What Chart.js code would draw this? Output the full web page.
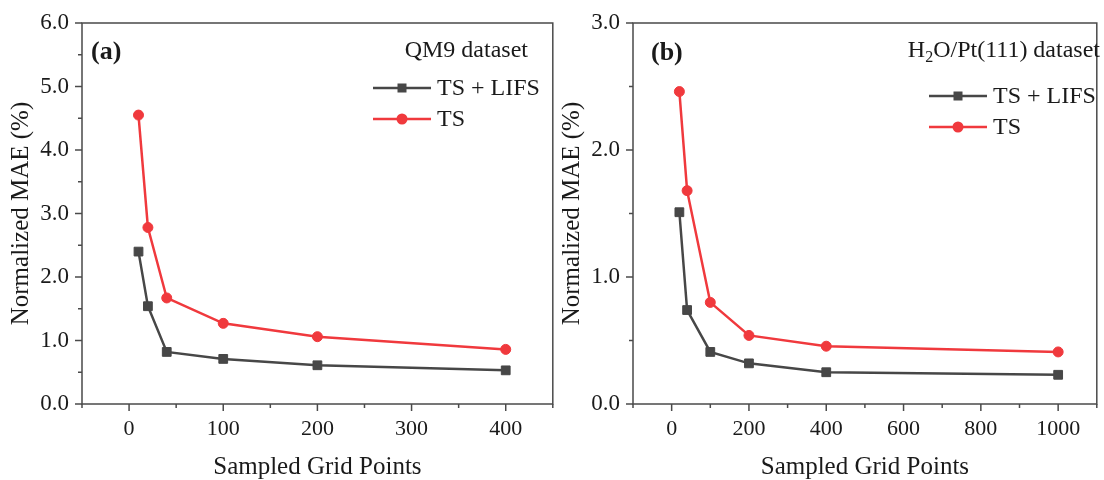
<!DOCTYPE html>
<html>
<head>
<meta charset="utf-8">
<title>Normalized MAE vs sampled grid points</title>
<script src="https://cdn.jsdelivr.net/npm/chart.js@4.4.1/dist/chart.umd.min.js"></script>
<style>
  html, body { margin: 0; padding: 0; background: #fff; }
  #wrap { position: relative; width: 1104px; height: 480px; overflow: hidden; }
  #chartA { position: absolute; left: 0; top: 0; }
  #chartB { position: absolute; left: 551px; top: 0; }
</style>
</head>
<body>
<div id="wrap">
  <canvas id="chartA" width="560" height="480"></canvas>
  <canvas id="chartB" width="553" height="480"></canvas>
</div>
<script>
// (a) QM9 dataset
const gridA = [10, 20, 40, 100, 200, 400];
const lifsA = [2.40, 1.54, 0.82, 0.71, 0.61, 0.53];
const tsA   = [4.55, 2.78, 1.67, 1.27, 1.06, 0.86];
const xTicksA = [0, 100, 200, 300, 400];
const yTicksA = [0, 1, 2, 3, 4, 5, 6];

// (b) H2O/Pt(111) dataset
const gridB = [20, 40, 100, 200, 400, 1000];
const lifsB = [1.51, 0.74, 0.41, 0.32, 0.25, 0.23];
const tsB   = [2.46, 1.68, 0.80, 0.54, 0.455, 0.41];
const xTicksB = [0, 200, 400, 600, 800, 1000];
const yTicksB = [0, 1, 2, 3];

const seriesNames = ['TS + LIFS', 'TS'];

const AXIS = '#4a4a4a';
const DARK = '#474747';
const RED = '#f0393d';
const TEXT = '#1a1a1a';
const SERIF = '"Liberation Serif", "Times New Roman", serif';

// box round the plot + outward ticks (major and minor) on bottom and left
const framePlugin = {
  id: 'frame',
  afterDatasetsDraw(chart, args, opts) {
    const { ctx, chartArea: a, scales: { x, y } } = chart;
    ctx.save();
    ctx.strokeStyle = AXIS;
    ctx.lineWidth = 1.5;
    ctx.strokeRect(a.left, a.top, a.right - a.left, a.bottom - a.top);

    const seg = (x1, y1, x2, y2) => {
      ctx.beginPath(); ctx.moveTo(x1, y1); ctx.lineTo(x2, y2); ctx.stroke();
    };
    opts.xMajor.forEach(v => {
      const p = x.getPixelForValue(v);
      seg(p, a.bottom, p, a.bottom + 7);
    });
    for (let v = x.min; v <= x.max + 1e-9; v += opts.xMinor) {
      if (opts.xMajor.includes(v)) continue;
      const p = x.getPixelForValue(v);
      seg(p, a.bottom, p, a.bottom + 4);
    }
    opts.yMajor.forEach(v => {
      const p = y.getPixelForValue(v);
      seg(a.left - 7, p, a.left, p);
    });
    for (let v = y.min; v <= y.max + 1e-9; v += opts.yMinor) {
      if (opts.yMajor.some(m => Math.abs(m - v) < 1e-9)) continue;
      const p = y.getPixelForValue(v);
      seg(a.left - 4, p, a.left, p);
    }
    ctx.restore();
  }
};

// panel letter, dataset name and the legend inside the plot
const decoPlugin = {
  id: 'deco',
  afterDraw(chart, args, o) {
    const ctx = chart.ctx;
    ctx.save();
    ctx.fillStyle = TEXT;
    ctx.textBaseline = 'middle';

    ctx.font = 'bold 26px ' + SERIF;
    ctx.textAlign = 'left';
    ctx.fillText(o.letter, o.letterX, o.letterY);

    // dataset name, right aligned, with optional subscript part
    const big = '24px ' + SERIF, small = '16px ' + SERIF;
    let w = 0;
    o.name.forEach(p => { ctx.font = p.sub ? small : big; w += ctx.measureText(p.t).width; });
    let cx = o.nameRight - w;
    o.name.forEach(p => {
      ctx.font = p.sub ? small : big;
      ctx.fillText(p.t, cx, o.nameY + (p.sub ? 7 : 0));
      cx += ctx.measureText(p.t).width;
    });

    // legend
    chart.data.datasets.forEach((ds, i) => {
      const ly = o.legY + i * o.legGap;
      ctx.strokeStyle = ds.borderColor;
      ctx.lineWidth = 2.5;
      ctx.beginPath(); ctx.moveTo(o.legX1, ly); ctx.lineTo(o.legX2, ly); ctx.stroke();
      const mx = (o.legX1 + o.legX2) / 2;
      ctx.fillStyle = ds.borderColor;
      if (ds.pointStyle === 'rect') {
        ctx.fillRect(mx - 4.5, ly - 4.5, 9, 9);
      } else {
        ctx.beginPath(); ctx.arc(mx, ly, 5.5, 0, Math.PI * 2); ctx.fill();
      }
      ctx.fillStyle = TEXT;
      ctx.font = big;
      ctx.textAlign = 'left';
      ctx.fillText(ds.label, o.legX2 + 6, ly + 1);
    });
    ctx.restore();
  }
};

function buildPanel(id, xs, lifs, ts, xTicks, yTicks, xRange, xMinor, yMax, padRight, deco) {
  const pts = vals => vals.map((v, i) => ({ x: xs[i], y: v }));
  return new Chart(document.getElementById(id), {
    type: 'line',
    data: {
      datasets: [
        {
          label: seriesNames[0], data: pts(lifs),
          borderColor: DARK, backgroundColor: DARK, borderWidth: 2.5,
          pointStyle: 'rect', pointRadius: 6.2, pointBorderWidth: 1
        },
        {
          label: seriesNames[1], data: pts(ts),
          borderColor: RED, backgroundColor: RED, borderWidth: 2.5,
          pointStyle: 'circle', pointRadius: 5, pointBorderWidth: 1
        }
      ]
    },
    options: {
      responsive: false,
      animation: false,
      events: [],
      layout: { padding: { top: 23, right: padRight, bottom: 0, left: 0 } },
      plugins: {
        legend: { display: false },
        tooltip: { enabled: false },
        frame: { xMajor: xTicks, xMinor: xMinor, yMajor: yTicks, yMinor: 0.5 },
        deco: deco
      },
      scales: {
        x: {
          type: 'linear', min: xRange[0], max: xRange[1],
          grid: { display: false, drawTicks: false },
          border: { display: false },
          afterBuildTicks: s => { s.ticks = xTicks.map(v => ({ value: v })); },
          afterFit: s => { s.height = 76; s.paddingLeft = 0; s.paddingRight = 0; },
          ticks: {
            padding: 12, color: TEXT, autoSkip: false, maxRotation: 0,
            font: { family: SERIF, size: 22 },
            callback: v => String(v)
          },
          title: {
            display: true, text: 'Sampled Grid Points', color: TEXT,
            font: { family: SERIF, size: 25, lineHeight: 1 },
            padding: { top: 0, bottom: 0 }
          }
        },
        y: {
          type: 'linear', min: 0, max: yMax,
          grid: { display: false, drawTicks: false },
          border: { display: false },
          afterBuildTicks: s => { s.ticks = yTicks.map(v => ({ value: v })); },
          afterFit: s => { s.width = 82; s.paddingTop = 0; s.paddingBottom = 0; },
          ticks: {
            padding: 13, color: TEXT,
            font: { family: SERIF, size: 23 },
            callback: v => Number(v).toFixed(1)
          },
          title: {
            display: true, text: 'Normalized MAE (%)', color: TEXT,
            font: { family: SERIF, size: 25, lineHeight: 1 },
            padding: { top: 9, bottom: 0 }
          }
        }
      }
    },
    plugins: [framePlugin, decoPlugin]
  });
}

buildPanel('chartA', gridA, lifsA, tsA, xTicksA, yTicksA, [-50, 450], 50, 6, 7, {
  letter: '(a)', letterX: 91, letterY: 52,
  name: [{ t: 'QM9 dataset' }], nameRight: 528, nameY: 51,
  legX1: 373, legX2: 431, legY: 88, legGap: 31
});

buildPanel('chartB', gridB, lifsB, tsB, xTicksB, yTicksB, [-100, 1100], 100, 3, 1, {
  letter: '(b)', letterX: 100, letterY: 53,
  name: [{ t: 'H' }, { t: '2', sub: true }, { t: 'O/Pt(111) dataset' }], nameRight: 549, nameY: 51,
  legX1: 378, legX2: 436, legY: 96, legGap: 31
});
</script>
</body>
</html>
